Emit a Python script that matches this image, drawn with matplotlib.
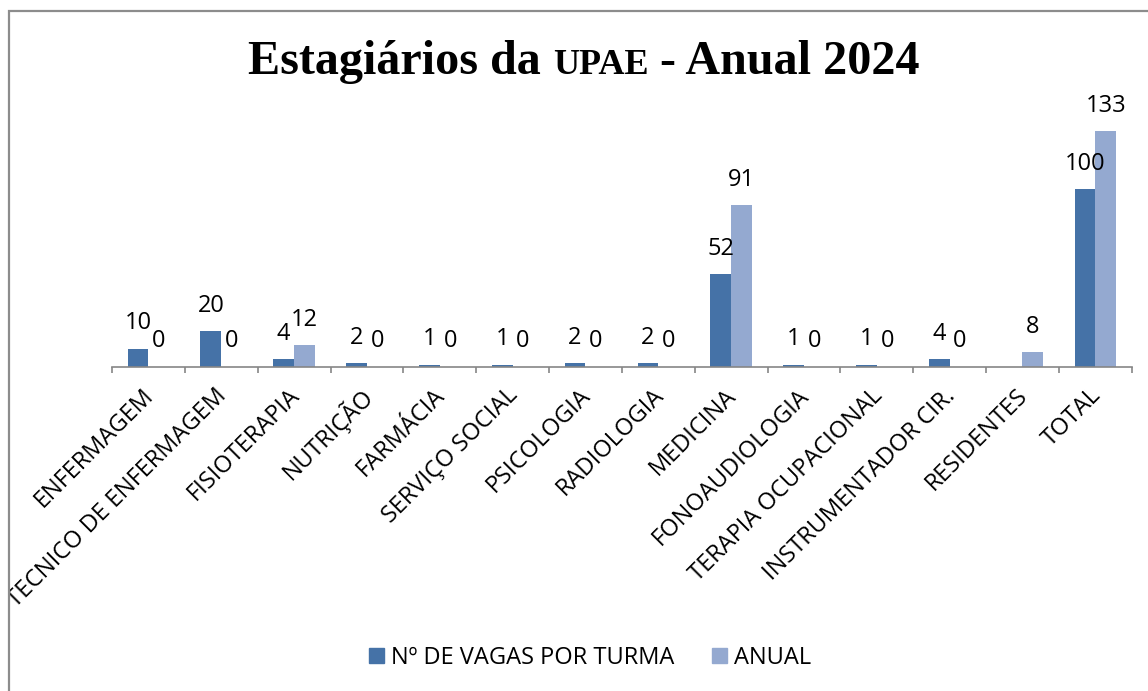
import numpy as np
import matplotlib
matplotlib.use("Agg")
import matplotlib.pyplot as plt
from matplotlib.patches import Rectangle, Patch
from matplotlib.transforms import ScaledTranslation, Bbox, TransformedBbox

categorias = ["ENFERMAGEM", "TECNICO DE ENFERMAGEM", "FISIOTERAPIA", "NUTRIÇÃO",
              "FARMÁCIA", "SERVIÇO SOCIAL", "PSICOLOGIA", "RADIOLOGIA", "MEDICINA",
              "FONOAUDIOLOGIA", "TERAPIA OCUPACIONAL", "INSTRUMENTADOR CIR.",
              "RESIDENTES", "TOTAL"]
vagas_turma = [10, 20, 4, 2, 1, 1, 2, 2, 52, 1, 1, 4, np.nan, 100]
anual = [0, 0, 12, 0, 0, 0, 0, 0, 91, 0, 0, 0, 8, 133]
serie_nomes = ["Nº DE VAGAS POR TURMA", "ANUAL"]

COR_ESCURA = "#4572a7"
COR_CLARA = "#94a9d0"
CINZA = "#868686"
FONTE = "Open Sans"
TAM = 17

W, H = 1148, 691
fig = plt.figure(figsize=(W / 100, H / 100), dpi=100)

# moldura do gráfico (só aparece em cima e à esquerda)
fig.patches.append(Rectangle((8.5 / W, -0.1), 1.2, 1.1 - 10.5 / H,
                             transform=fig.transFigure, fill=False,
                             edgecolor="#8c8c8c", linewidth=1.6))

ax = fig.add_axes([112 / W, (H - 366.5) / H, (1131.7 - 112) / W, 247.8 / H])

x = np.arange(len(categorias))
largura = 0.285
ax.bar(x - largura / 2, vagas_turma, largura, color=COR_ESCURA)
ax.bar(x + largura / 2, anual, largura, color=COR_CLARA)

for xs, vals in ((x - largura / 2, vagas_turma), (x + largura / 2, anual)):
    for xi, v in zip(xs, vals):
        if np.isnan(v):
            continue
        ax.annotate(f"{v:g}", (xi, v), xytext=(0, 14), textcoords="offset points",
                    ha="center", va="baseline", fontsize=TAM, family=FONTE)

ax.set_xlim(-0.5, len(categorias) - 0.5)
ax.set_ylim(0, 140)
for s in ("top", "right", "left"):
    ax.spines[s].set_visible(False)
ax.spines["bottom"].set_color(CINZA)
ax.spines["bottom"].set_linewidth(1.2)
ax.set_yticks([])

ax.set_xticks(x)
ax.set_xticks(np.arange(len(categorias) + 1) - 0.5, minor=True)
ax.tick_params(axis="x", which="major", length=0, pad=18.5)
ax.tick_params(axis="x", which="minor", length=4.5, width=1.2, color=CINZA, direction="out")
ax.set_xticklabels(categorias, rotation=45, ha="right", va="center",
                   rotation_mode="anchor", fontsize=TAM, family=FONTE)

desloc = ScaledTranslation(0.02, 0, fig.dpi_scale_trans)
caixa = TransformedBbox(Bbox([[10 / W, 0], [1, 1]]), fig.transFigure)
for lab in ax.get_xticklabels():
    lab.set_transform(lab.get_transform() + desloc)
    lab.set_clip_box(caixa)
    lab.set_clip_on(True)

handles = [Patch(color=COR_ESCURA), Patch(color=COR_CLARA)]
fig.legend(handles, serie_nomes, loc="center", bbox_to_anchor=(590 / W, (H - 658) / H),
           ncol=2, frameon=False, handlelength=0.62, handleheight=0.62,
           handletextpad=0.3, columnspacing=1.6, prop={"family": FONTE, "size": TAM})

# título com "UPAE" em tamanho menor
partes = [("Estagiários da", 34.7), ("UPAE", 26), ("- Anual 2024", 34.7)]
textos = [fig.text(0, (H - 74) / H, t, fontsize=s, fontweight="bold",
                   family="Liberation Serif", ha="left", va="baseline")
          for t, s in partes]
renderer = fig.canvas.get_renderer()
espaco = 0.25 * 34.7 * 100 / 72
larguras = [t.get_window_extent(renderer).width for t in textos]
total = sum(larguras) + espaco * (len(textos) - 1)
pos = 584 - total / 2
for t, w in zip(textos, larguras):
    t.set_x(pos / W)
    pos += w + espaco

fig.savefig("out.png", dpi=100)
